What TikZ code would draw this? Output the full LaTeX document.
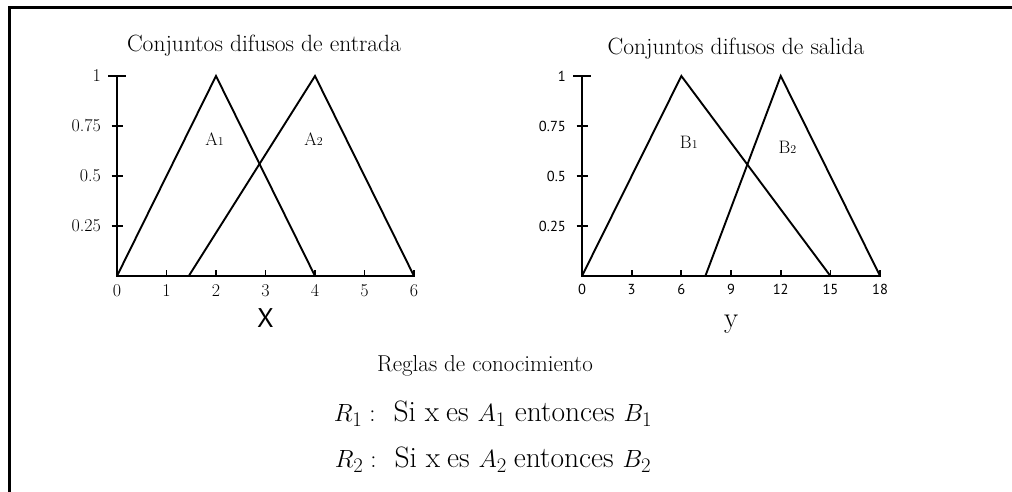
\documentclass[tikz,border=0pt]{standalone}
\usepackage{fontspec}
\newfontfamily\axisfont{PT Sans}
\usetikzlibrary{positioning}

\tikzset{
  frameline/.style={line width=3pt},
  axisline/.style={line width=1.8pt},
  setline/.style={line width=1.9pt, line join=miter},
  serifnum/.style={font=\fontsize{18}{20}\selectfont, inner sep=0pt},
  sansnum/.style={font=\axisfont\fontsize{14.5}{16}\selectfont, inner sep=0pt},
  setname/.style={font=\fontsize{18}{20}\selectfont, inner sep=0pt},
  titletext/.style={font=\fontsize{23.5}{26}\selectfont, inner sep=0pt, anchor=base},
  ruletext/.style={font=\fontsize{29.5}{32}\selectfont, inner sep=0pt, anchor=base}
}

\newcommand{\smallsub}[1]{{\fontsize{12}{14}\selectfont #1}}

\begin{document}
\begin{tikzpicture}[x=1pt,y=1pt]
    \useasboundingbox (0,0) rectangle (1012,492);

    % frame
    \draw[frameline] (1014,484) -| (9,-2);

    % titles
    \node[titletext] (tin) at (264,440) {Conjuntos difusos de entrada};
    \node[titletext] (tout) at (736,437) {Conjuntos difusos de salida};

    % input sets
    \begin{scope}[shift={(117,216)}, x=49.5pt, y=200pt]
      \draw[axisline] (0,1) -- (0,0) coordinate (o1) -- (6,0);
      \draw[axisline] (0,1) ++(-9pt,0) -- ++(18pt,0);
      \foreach \v in {0.25,0.5,0.75}
        \draw[axisline] (0,\v) ++(-5.5pt,0) -- ++(11pt,0);
      \foreach \i in {1,...,6}
        \draw[axisline] (\i,0) ++(0,-1pt) -- ++(0,7pt);
      \foreach \v/\t in {1/1,0.75/0.75,0.5/0.5,0.25/0.25}
        \node[serifnum, anchor=east] (yin\t) at ([xshift=-16pt]0,\v) {\t};
      \foreach \i in {0,...,6}
        \node[serifnum, anchor=north] (xin\i) at ([yshift=-8pt]\i,0) {\i};
      \node[font=\axisfont\fontsize{27}{30}\selectfont, inner sep=0pt, anchor=base] (xlab) at ([yshift=-52pt]3,0) {X};
      % sets
      \draw[setline] (0,0) -- (2,1) -- (4,0);
      \draw[setline] (1.45,0) -- (4,1) -- (6,0);
      \node[setname] (a1) at (1.97,0.685) {A\smallsub{1}};
      \node[setname] (a2) at (3.97,0.685) {A\smallsub{2}};
    \end{scope}

    % output sets
    \begin{scope}[shift={(582,216)}, x=16.56pt, y=200pt]
      \draw[axisline] (0,1) -- (0,0) coordinate (o2) -- (18,0);
      \draw[axisline] (0,1) ++(-9pt,0) -- ++(18pt,0);
      \foreach \v in {0.25,0.5,0.75}
        \draw[axisline] (0,\v) ++(-5.5pt,0) -- ++(11pt,0);
      \foreach \i in {3,6,...,18}
        \draw[axisline] (\i,0) ++(0,-1pt) -- ++(0,7pt);
      \foreach \v/\t in {1/1,0.75/0.75,0.5/0.5,0.25/0.25}
        \node[sansnum, anchor=east] (yout\t) at ([xshift=-16pt]0,\v) {\t};
      \foreach \i in {0,3,...,18}
        \node[sansnum, anchor=north] (xout\i) at ([yshift=-8pt]\i,0) {\i};
      \node[font=\fontsize{29}{32}\selectfont, inner sep=0pt, anchor=base] (ylab) at ([yshift=-52pt]9,0) {y};
      % sets
      \draw[setline] (0,0) -- (6,1) -- (15,0);
      \draw[setline] (7.45,0) -- (12,1) -- (18,0);
      \node[setname] (b1) at (6.45,0.67) {B\smallsub{1}};
      \node[setname] (b2) at (12.4,0.645) {B\smallsub{2}};
    \end{scope}

    % rules
    \node[titletext, font=\fontsize{23}{26}\selectfont] (reglas) at (485,120) {Reglas de conocimiento};
    \node[ruletext] (r1) at (493,70) {$R_1:$\hspace{18pt}Si x\hspace{7pt}es $A_1$ entonces $B_1$};
    \node[ruletext] (r2) at (493,24) {$R_2:$\hspace{18pt}Si x\hspace{7pt}es $A_2$\hspace{-2pt} entonces $B_2$};

\end{tikzpicture}
\end{document}
